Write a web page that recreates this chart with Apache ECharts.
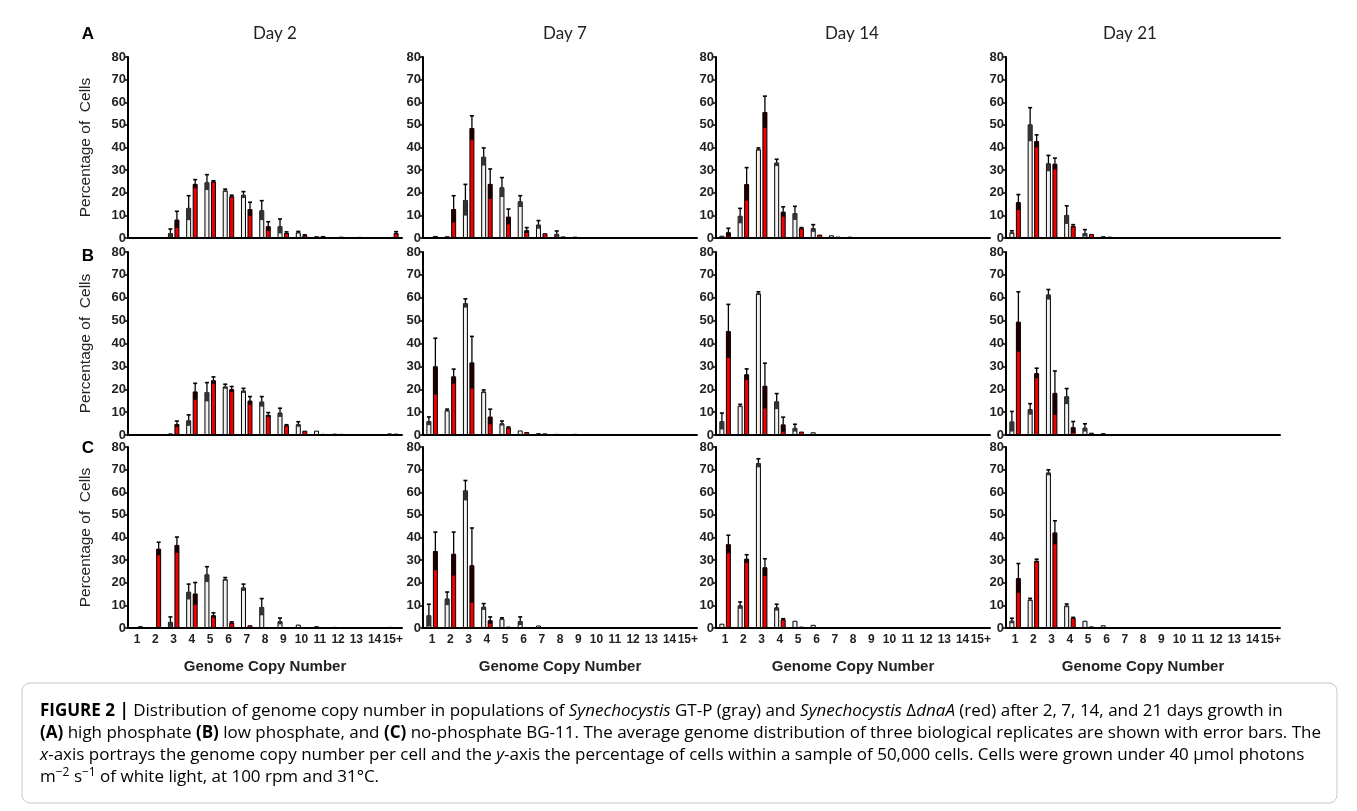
<!DOCTYPE html>
<html>
<head>
<meta charset="utf-8">
<script src="https://cdn.jsdelivr.net/npm/echarts@6/dist/echarts.min.js"></script>
<style>
html, body { margin: 0; padding: 0; background: #fff; }
#main { width: 1357px; height: 811px; }
</style>
</head>
<body>
<div id="main"></div>
<script>
// categories / panels
var cats = ['1', '2', '3', '4', '5', '6', '7', '8', '9', '10', '11', '12', '13', '14', '15+'];
var days = ['Day 2', 'Day 7', 'Day 14', 'Day 21'];
var rowLetters = ['A', 'B', 'C'];
var yTicks = [0, 10, 20, 30, 40, 50, 60, 70, 80];

// A: high phosphate (day 2, 7, 14, 21)
var grayA = [
	[0, 0, 2.2, 13.3, 24.6, 21, 19.1, 12.2, 5.2, 2.5, 0.8, 0.4, 0.3, 0.2, 0.3],
	[0.2, 0.8, 16.8, 35.9, 22.4, 16.2, 5.9, 1.8, 0.6, 0.4, 0.3, 0.2, 0.1, 0.1, 0.1],
	[1.0, 9.8, 39.2, 33.3, 11, 4.3, 1.2, 0.6, 0.3, 0, 0, 0, 0, 0, 0],
	[2.5, 50.2, 33, 10.2, 2.2, 0.8, 0.4, 0.2, 0.1, 0, 0, 0, 0, 0, 0]
];
var grayErrA = [
	[0, 0, 1.8, 5.4, 3.4, 0.6, 1.4, 4.3, 3.2, 0.4, 0, 0, 0, 0, 0],
	[0, 0, 6.9, 3.9, 4.3, 2.5, 1.8, 1.3, 0, 0, 0, 0, 0, 0, 0],
	[0, 3.3, 0.6, 1.5, 3, 1.6, 0, 0, 0, 0, 0, 0, 0, 0, 0],
	[0.7, 7.4, 3.5, 4, 1.5, 0, 0, 0, 0, 0, 0, 0, 0, 0, 0]
];
var redA = [
	[0.3, 0.3, 8.1, 23.9, 25, 18.4, 12.8, 5.2, 2.2, 1.2, 0.9, 0.6, 0.5, 0.2, 2.2],
	[0.9, 12.8, 48.6, 23.9, 9.4, 3.4, 2.1, 0.7, 0.4, 0.3, 0.2, 0.1, 0.1, 0, 0],
	[2.5, 23.8, 55.7, 11.6, 4.3, 1.5, 0.6, 0.3, 0.1, 0, 0, 0, 0, 0, 0],
	[15.8, 42.8, 32.8, 5.3, 1.8, 0.6, 0.3, 0.2, 0.1, 0, 0, 0, 0, 0, 0]
];
var redErrA = [
	[0, 0, 3.7, 1.9, 0.3, 0.5, 3, 2, 0.5, 0.2, 0, 0, 0, 0, 0.6],
	[0, 5.9, 5.4, 6.6, 3.4, 1.2, 0, 0, 0, 0, 0, 0, 0, 0, 0],
	[1.8, 7.3, 7.0, 2.2, 0.3, 0, 0, 0, 0, 0, 0, 0, 0, 0, 0],
	[3.4, 2.8, 2.5, 0.6, 0, 0, 0, 0, 0, 0, 0, 0, 0, 0, 0]
];

// B: low phosphate
var grayB = [
	[0, 0.2, 0.7, 6.4, 18.8, 21.2, 19.4, 14.6, 9.8, 4.7, 1.9, 0.6, 0.4, 0.3, 0.7],
	[6.1, 10.8, 57.6, 19, 5.1, 2, 0.8, 0.5, 0.5, 0.2, 0.1, 0, 0, 0, 0],
	[6, 12.8, 61.9, 14.7, 3.1, 1.2, 0.4, 0.3, 0.1, 0, 0, 0, 0, 0, 0],
	[5.9, 11.3, 61.4, 16.9, 3.2, 0.8, 0.4, 0, 0, 0, 0, 0, 0, 0, 0]
];
var grayErrB = [
	[0, 0, 0, 2.4, 4.1, 1, 1, 2.2, 1.9, 1.1, 0, 0, 0, 0, 0],
	[1.8, 0.5, 1.9, 0.7, 1, 0, 0, 0, 0, 0, 0, 0, 0, 0, 0],
	[3.6, 0.6, 0.7, 3.4, 1.6, 0, 0, 0, 0, 0, 0, 0, 0, 0, 0],
	[4.4, 2.4, 2.2, 3.4, 1.7, 0, 0, 0, 0, 0, 0, 0, 0, 0, 0]
];
var redB = [
	[0, 0.3, 4.8, 19, 23.9, 20, 15, 8.8, 4.2, 1.9, 0.5, 0.5, 0.3, 0.1, 0.6],
	[30, 25.6, 31.7, 8, 3.2, 1.3, 0.7, 0.4, 0.3, 0.1, 0, 0, 0, 0, 0],
	[45.4, 26.5, 21.5, 4.6, 1.5, 0.4, 0.3, 0.2, 0.1, 0, 0, 0, 0, 0, 0],
	[49.5, 27, 18.4, 3.4, 1, 0.3, 0.2, 0, 0, 0, 0, 0, 0, 0, 0]
];
var redErrB = [
	[0, 0, 1.3, 3.6, 1.5, 1.2, 1.8, 1, 0.3, 0, 0, 0, 0, 0, 0],
	[12.3, 3.2, 11.4, 3.3, 0.3, 0, 0, 0, 0, 0, 0, 0, 0, 0, 0],
	[11.7, 2.4, 9.9, 3.2, 0, 0, 0, 0, 0, 0, 0, 0, 0, 0, 0],
	[13.1, 2.2, 9.6, 2.5, 0, 0, 0, 0, 0, 0, 0, 0, 0, 0, 0]
];

// C: no phosphate
var grayC = [
	[0.2, 0, 2.7, 16, 23.7, 21.6, 17.9, 9.3, 3, 1.5, 0.8, 0.5, 0.3, 0, 0.5],
	[5.6, 13, 60.8, 9.4, 4.1, 3.1, 1.1, 0.4, 0.2, 0, 0, 0, 0, 0, 0],
	[1.9, 10, 72.9, 9.1, 3.2, 1.4, 0.3, 0, 0, 0, 0, 0, 0, 0, 0],
	[3.2, 12.5, 68.7, 9.9, 3.2, 1.2, 0.4, 0, 0, 0, 0, 0, 0, 0, 0]
];
var grayErrC = [
	[0, 0, 2.2, 3.4, 3.4, 0.7, 1.5, 3.7, 1.4, 0, 0, 0, 0, 0, 0],
	[4.9, 2.9, 4.4, 1.4, 0.4, 1.8, 0, 0, 0, 0, 0, 0, 0, 0, 0],
	[0, 1.5, 1.9, 1.4, 0, 0, 0, 0, 0, 0, 0, 0, 0, 0, 0],
	[1.1, 0.6, 1.2, 0.7, 0, 0, 0, 0, 0, 0, 0, 0, 0, 0, 0]
];
var redC = [
	[0.8, 35, 36.7, 15.2, 5.6, 2.4, 1.2, 0.4, 0.2, 0.4, 0.1, 0, 0, 0, 0],
	[34, 32.8, 27.7, 3.4, 0.6, 0.2, 0.3, 0, 0, 0, 0, 0, 0, 0, 0],
	[37, 30.6, 26.8, 3.8, 0.6, 0.2, 0, 0, 0, 0, 0, 0, 0, 0, 0],
	[22, 29.7, 42.2, 4.4, 0.7, 0.3, 0, 0, 0, 0, 0, 0, 0, 0, 0]
];
var redErrC = [
	[0, 2.9, 3.5, 4.9, 1.1, 0.3, 0, 0, 0, 0, 0, 0, 0, 0, 0],
	[8.4, 9.6, 16.5, 1.5, 0, 0, 0, 0, 0, 0, 0, 0, 0, 0, 0],
	[4, 1.8, 3.8, 0.3, 0, 0, 0, 0, 0, 0, 0, 0, 0, 0, 0],
	[6.5, 0.7, 5.2, 0.3, 0, 0, 0, 0, 0, 0, 0, 0, 0, 0, 0]
];

var rowData = [
	[grayA, grayErrA, redA, redErrA],
	[grayB, grayErrB, redB, redErrB],
	[grayC, grayErrC, redC, redErrC]
];

// layout
var colLeft = [128, 423, 716, 1006];
var colWidth = 274;
var rowTop = [57, 252, 447];
var rowHeight = [181, 183, 181];
var titleX = [275, 565, 852, 1130];
var letterY = [34, 256, 448];
var barW = 5;
var pairOff = 3.25;
var axisFont = 'Liberation Sans';

// 误差线
function errRender(off, dark) {
	return function(params, api) {
		var c = api.value(0), m = api.value(1), e = api.value(2);
		if (!(e > 0)) return;
		var top = api.coord([c, m + e]);
		var mid = api.coord([c, m]);
		var low = api.coord([c, Math.max(0, m - e)]);
		var x = top[0] + off;
		return {
			type: 'group',
			children: [
				{ type: 'rect', shape: { x: x - 2, y: mid[1], width: 4, height: low[1] - mid[1] }, style: { fill: dark } },
				{ type: 'line', shape: { x1: x, y1: mid[1], x2: x, y2: top[1] }, style: { stroke: '#000', lineWidth: 1.3 } },
				{ type: 'line', shape: { x1: x - 2, y1: top[1], x2: x + 2, y2: top[1] }, style: { stroke: '#000', lineWidth: 1.6 } }
			]
		};
	};
}

var grids = [], xAxes = [], yAxes = [], series = [], graphics = [];
for (var r = 0; r < 3; r++) {
	for (var c = 0; c < 4; c++) {
		var idx = r * 4 + c;
		grids.push({ left: colLeft[c], top: rowTop[r], width: colWidth, height: rowHeight[r] });
		xAxes.push({
			gridIndex: idx,
			type: 'category',
			data: cats,
			axisLine: { lineStyle: { color: '#000', width: 2 } },
			axisTick: { show: false },
			axisLabel: {
				show: r == 2, interval: 0, color: '#222', fontFamily: axisFont,
				fontWeight: 'bold', fontSize: 12, margin: 6
			},
			name: r == 2 ? 'Genome Copy Number' : '',
			nameLocation: 'middle',
			nameGap: 31,
			nameTextStyle: { color: '#222', fontFamily: axisFont, fontWeight: 'bold', fontSize: 15 }
		});
		yAxes.push({
			gridIndex: idx,
			type: 'value',
			min: yTicks[0],
			max: yTicks[yTicks.length - 1],
			interval: 10,
			splitLine: { show: false },
			axisLine: { show: true, lineStyle: { color: '#000', width: 2 } },
			axisTick: { show: true, length: 4, lineStyle: { color: '#000', width: 1.5 } },
			axisLabel: { color: '#222', fontFamily: axisFont, fontWeight: 'bold', fontSize: 13, margin: 2 },
			name: c == 0 ? 'Percentage of  Cells' : '',
			nameLocation: 'middle',
			nameGap: 34,
			nameTextStyle: { color: '#222', fontFamily: axisFont, fontSize: 15.5 }
		});
		var g = rowData[r][0][c], ge = rowData[r][1][c], rd = rowData[r][2][c], re = rowData[r][3][c];
		series.push({
			type: 'bar', xAxisIndex: idx, yAxisIndex: idx, data: g,
			barWidth: barW, barGap: '30%', silent: true,
			itemStyle: { color: '#f2f2f2', borderColor: '#000', borderWidth: 1 }
		});
		series.push({
			type: 'bar', xAxisIndex: idx, yAxisIndex: idx, data: rd,
			barWidth: barW, barGap: '30%', silent: true,
			itemStyle: { color: '#f00000', borderColor: '#000', borderWidth: 1 }
		});
		series.push({
			type: 'custom', xAxisIndex: idx, yAxisIndex: idx, z: 5, silent: true,
			renderItem: errRender(-pairOff, '#333'),
			encode: { x: 0, y: 1 },
			data: g.map(function(v, i) { return [i, v, ge[i]]; })
		});
		series.push({
			type: 'custom', xAxisIndex: idx, yAxisIndex: idx, z: 5, silent: true,
			renderItem: errRender(pairOff, '#1a0000'),
			encode: { x: 0, y: 1 },
			data: rd.map(function(v, i) { return [i, v, re[i]]; })
		});
	}
}

for (var i = 0; i < days.length; i++) {
	graphics.push({
		type: 'text', x: titleX[i], y: 34,
		style: { text: days[i], fill: '#222', font: '17px Lato', align: 'center', verticalAlign: 'middle' }
	});
}
for (var i = 0; i < rowLetters.length; i++) {
	graphics.push({
		type: 'text', x: 88, y: letterY[i],
		style: { text: rowLetters[i], fill: '#000', font: 'bold 17px "Liberation Sans"', align: 'center', verticalAlign: 'middle' }
	});
}

// 图注
var capFont = 17;
var capFam = 'Open Sans';
var rich = {
	n: { fontSize: capFont, fontFamily: capFam, color: '#333' },
	b: { fontSize: capFont, fontFamily: capFam, color: '#333', fontWeight: 'bold' },
	i: { fontSize: capFont, fontFamily: capFam, color: '#333', fontStyle: 'italic' },
	sup: { fontSize: 12, fontFamily: capFam, color: '#333', verticalAlign: 'top', lineHeight: 20 }
};
var capLines = [
	'{b|FIGURE 2 |}{n| Distribution of genome copy number in populations of }{i|Synechocystis}{n| GT-P (gray) and }{i|Synechocystis}{n| Δ}{i|dnaA}{n| (red) after 2, 7, 14, and 21 days growth in}',
	'{b|(A)}{n| high phosphate }{b|(B)}{n| low phosphate, and }{b|(C)}{n| no-phosphate BG-11. The average genome distribution of three biological replicates are shown with error bars. The}',
	'{i|x}{n|-axis portrays the genome copy number per cell and the }{i|y}{n|-axis the percentage of cells within a sample of 50,000 cells. Cells were grown under 40 μmol photons}',
	'{n|m}{sup|−2}{n| s}{sup|−1}{n| of white light, at 100 rpm and 31°C.}'
];
var capY = [711, 733, 755, 777];
graphics.push({
	type: 'rect', shape: { x: 22, y: 683, width: 1315, height: 120, r: 8 },
	style: { fill: 'none', stroke: '#c8c8c8', lineWidth: 1 }
});
for (var i = 0; i < capLines.length; i++) {
	graphics.push({
		type: 'text', x: 40, y: capY[i],
		style: { text: capLines[i], rich: rich, verticalAlign: 'middle', lineHeight: 20 }
	});
}

var myChart = echarts.init(document.getElementById('main'));
var option = {
	animation: false,
	backgroundColor: '#fff',
	grid: grids,
	xAxis: xAxes,
	yAxis: yAxes,
	series: series,
	graphic: graphics
};
myChart.setOption(option, true);
</script>
</body>
</html>
